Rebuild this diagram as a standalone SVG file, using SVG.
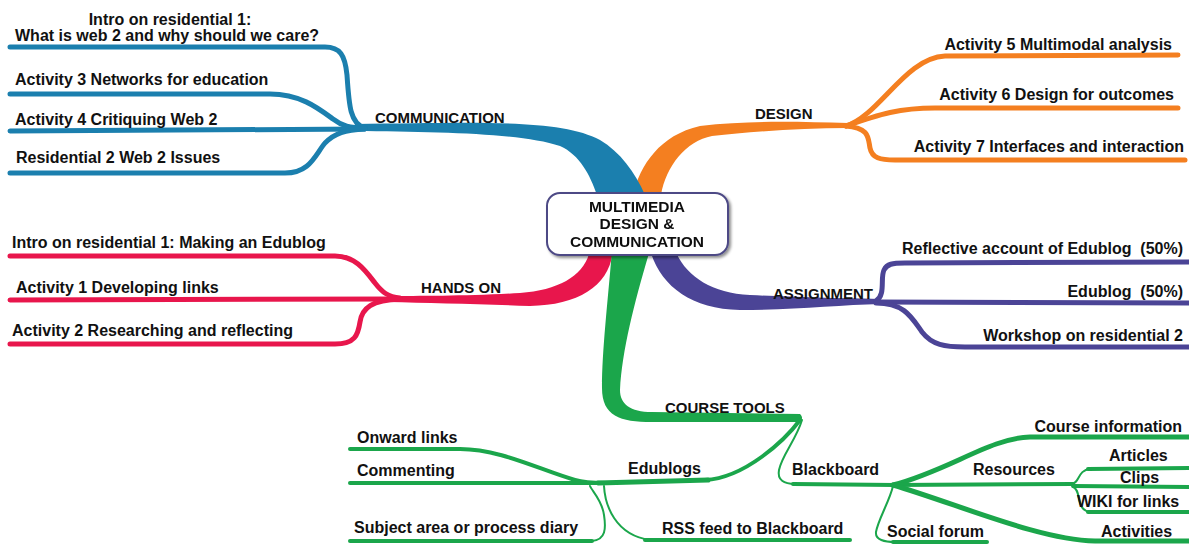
<svg xmlns="http://www.w3.org/2000/svg" width="1189" height="544" viewBox="0 0 1189 544">
<style>
text{font-family:"Liberation Sans",Arial,sans-serif;font-weight:bold;fill:#111;white-space:pre}
.s{font-size:16px}
.m{font-size:15px}
.c{font-size:15.5px;text-anchor:middle}
.e{text-anchor:end}
.ln{fill:none;stroke-linecap:round;stroke-linejoin:round}
.b{stroke:#1b7fae;stroke-width:5}
.o{stroke:#f47f20;stroke-width:5}
.r{stroke:#e8164c;stroke-width:5}
.p{stroke:#4b4496;stroke-width:5}
.g{stroke:#1ba64b;stroke-width:4}
.g5{stroke:#1ba64b;stroke-width:5}
.gt{stroke:#1ba64b;stroke-width:2}
</style>
<defs>
<filter id="sh" x="-10%" y="-10%" width="130%" height="140%">
<feGaussianBlur in="SourceAlpha" stdDeviation="1.5"/>
<feOffset dx="2" dy="2" result="o"/>
<feComponentTransfer><feFuncA type="linear" slope="0.45"/></feComponentTransfer>
<feMerge><feMergeNode/><feMergeNode in="SourceGraphic"/></feMerge>
</filter>
</defs>
<rect width="1189" height="544" fill="#fff"/>
<g id="connectors">
<path fill="#f47f20" d="M633,195 C640,165 660,135 700,126 C750,120 800,122 848,123 L848,128 C800,128 750,132 712,136 C686,141 666,166 661,195 Z"/>
<path fill="#1b7fae" d="M355,124 C470,123 560,118 600,140 C620,152 635,172 645,195 L597,195 C590,175 580,155 560,146 C520,133 440,132 355,131 Z"/>
<path fill="#e8164c" d="M590,250 C585,275 560,290 520,293 C470,296 420,296 388,296 L388,302 C430,303 480,304 530,306 C580,305 610,285 613,250 Z"/>
<path fill="#4b4496" d="M650,250 C660,285 690,309 740,310 C790,310 840,305 880,304 L880,299 C830,298 790,297 750,295 C710,293 685,275 675,250 Z"/>
<path fill="#1ba64b" d="M612,250 C608,300 602,350 602,388 C602,416 620,422 652,422 L795,422 C802,422 804,418 800,414 L652,412 C630,412 620,404 620,390 C622,350 635,300 650,250 Z"/>
<path class="ln b" d="M10,47 L325,47 C340,47 345,55 347,75 C349,105 350,124 365,128"/>
<path class="ln b" d="M10,94 L270,94 C300,94 318,108 333,119 C342,126 350,128 365,128"/>
<path class="ln b" d="M10,131 L365,129"/>
<path class="ln b" d="M10,173 L285,173 C310,173 315,155 325,143 C335,133 345,130 365,129"/>
<path class="ln o" d="M846,126 C880,115 905,58 945,56 L1178,55"/>
<path class="ln o" d="M846,126 C880,114 900,108 935,108 L1178,108"/>
<path class="ln o" d="M846,126 C870,128 868,138 870,148 C872,158 880,160 895,160 L1185,160"/>
<path class="ln r" d="M10,256 L335,256 C355,256 365,270 375,283 C382,292 388,297 400,298"/>
<path class="ln r" d="M10,300 L400,299"/>
<path class="ln r" d="M10,344 L335,344 C355,344 358,335 360,322 C362,308 372,300 400,299"/>
<path class="ln p" d="M876,301 C886,295 880,278 884,270 C887,264 892,263 905,263 L1189,262"/>
<path class="ln p" d="M876,302 L1189,303"/>
<path class="ln p" d="M876,303 C905,303 912,318 922,332 C932,345 945,347 965,347 L1189,347"/>
<path class="ln g" d="M800,420 C785,440 745,478 705,480"/>
<path class="ln g5" d="M708,480 L598,483"/>
<path class="ln gt" d="M802,420 C796,440 782,455 779,470 C777,480 784,484 795,484"/>
<path class="ln g" d="M793,484 L895,485"/>
<path class="ln g" d="M350,449 L460,449 C500,449 540,470 575,480 C585,483 595,483 605,483"/>
<path class="ln g" d="M350,483 L610,483"/>
<path class="ln g" d="M350,541 L592,541"/>
<path class="ln gt" d="M592,541 C606,540 606,528 604,515 C602,500 592,491 590,486"/>
<path class="ln gt" d="M604,486 C605,505 615,535 650,540"/>
<path class="ln g" d="M645,540 L850,540"/>
<path class="ln g5" d="M893,485 C950,470 990,438 1030,437 L1189,437"/>
<path class="ln g" d="M893,485 L1073,484"/>
<path class="ln gt" d="M1071,484 C1080,484 1077,470 1090,469"/>
<path class="ln g" d="M1088,469 L1189,468"/>
<path class="ln g" d="M1073,486 L1189,487"/>
<path class="ln gt" d="M1073,487 C1082,490 1075,510 1090,512"/>
<path class="ln g" d="M1088,512 L1189,512"/>
<path class="ln gt" d="M893,486 C890,500 878,520 876,532 C875,540 885,542 895,542"/>
<path class="ln g" d="M893,542 L987,542"/>
<path class="ln g5" d="M893,485 C960,505 1040,540 1095,541 L1189,541"/>
</g>
<g id="center" filter="url(#sh)">
<rect x="547" y="193" width="181" height="62" rx="13" fill="#fff" stroke="#4d4a85" stroke-width="2"/>
<text class="c" x="637" y="212">MULTIMEDIA</text>
<text class="c" x="637" y="229">DESIGN &amp;</text>
<text class="c" x="637" y="247">COMMUNICATION</text>
</g>
<g id="communication"><text class="m" x="375" y="123">COMMUNICATION</text></g>
<g id="comm-intro"><text class="s" x="170" y="25" text-anchor="middle">Intro on residential 1:</text><text class="s" x="15" y="41">What is web 2 and why should we care?</text></g>
<g id="comm-act3"><text class="s" x="15" y="85">Activity 3 Networks for education</text></g>
<g id="comm-act4"><text class="s" x="15" y="125">Activity 4 Critiquing Web 2</text></g>
<g id="comm-res2"><text class="s" x="16" y="163">Residential 2 Web 2 Issues</text></g>
<g id="design"><text class="m" x="755" y="119">DESIGN</text></g>
<g id="design-act5"><text class="s e" x="1172" y="50">Activity 5 Multimodal analysis</text></g>
<g id="design-act6"><text class="s e" x="1174" y="100">Activity 6 Design for outcomes</text></g>
<g id="design-act7"><text class="s e" x="1184" y="152">Activity 7 Interfaces and interaction</text></g>
<g id="handson"><text class="m" x="421" y="293">HANDS ON</text></g>
<g id="hands-intro"><text class="s" x="12" y="248">Intro on residential 1: Making an Edublog</text></g>
<g id="hands-act1"><text class="s" x="16" y="293">Activity 1 Developing links</text></g>
<g id="hands-act2"><text class="s" x="12" y="336">Activity 2 Researching and reflecting</text></g>
<g id="assignment"><text class="m" x="773" y="299">ASSIGNMENT</text></g>
<g id="assign-reflective"><text class="s e" x="1183" y="254">Reflective account of Edublog  (50%)</text></g>
<g id="assign-edublog"><text class="s e" x="1183" y="297">Edublog  (50%)</text></g>
<g id="assign-workshop"><text class="s e" x="1183" y="341">Workshop on residential 2</text></g>
<g id="coursetools"><text class="m" x="665" y="413">COURSE TOOLS</text></g>
<g id="edublogs"><text class="s" x="628" y="474">Edublogs</text></g>
<g id="onward"><text class="s" x="357" y="443">Onward links</text></g>
<g id="commenting"><text class="s" x="357" y="476">Commenting</text></g>
<g id="subject"><text class="s" x="354" y="533">Subject area or process diary</text></g>
<g id="rss"><text class="s" x="662" y="534">RSS feed to Blackboard</text></g>
<g id="blackboard"><text class="s" x="792" y="475">Blackboard</text></g>
<g id="courseinfo"><text class="s e" x="1182" y="432">Course information</text></g>
<g id="resources"><text class="s" x="973" y="475">Resources</text></g>
<g id="articles"><text class="s" x="1109" y="461">Articles</text></g>
<g id="clips"><text class="s" x="1120" y="483">Clips</text></g>
<g id="wiki"><text class="s" x="1077" y="507">WIKI for links</text></g>
<g id="social"><text class="s" x="887" y="537">Social forum</text></g>
<g id="activities"><text class="s" x="1101" y="537">Activities</text></g>
</svg>
